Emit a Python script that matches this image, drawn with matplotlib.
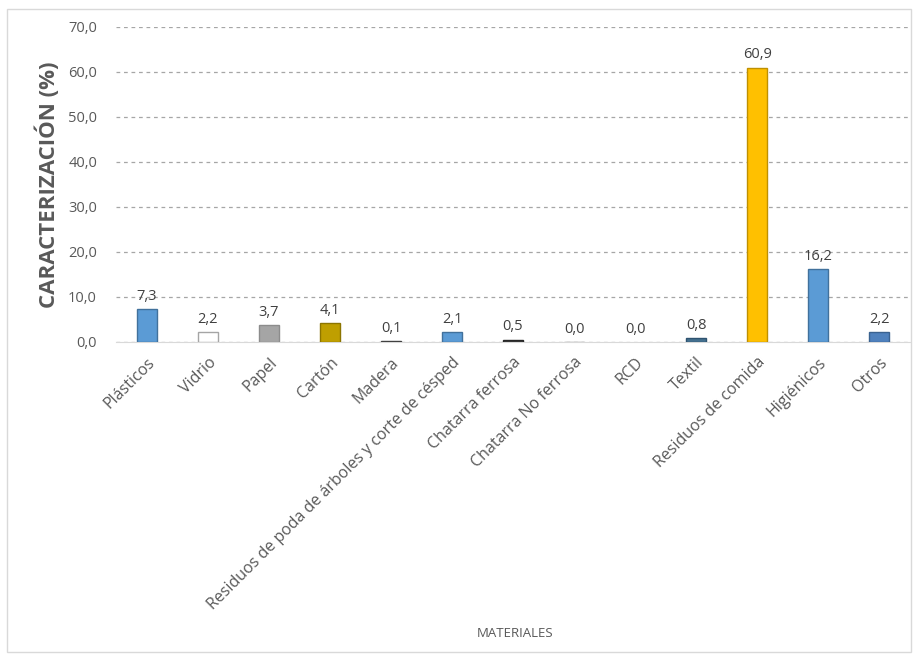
import matplotlib
matplotlib.use("Agg")
import matplotlib.pyplot as plt
from matplotlib.ticker import FuncFormatter

categories = ["Plásticos", "Vidrio", "Papel", "Cartón", "Madera",
              "Residuos de poda de árboles y corte de césped",
              "Chatarra ferrosa", "Chatarra No ferrosa", "RCD", "Textil",
              "Residuos de comida", "Higiénicos", "Otros"]
values = [7.3, 2.2, 3.7, 4.1, 0.1, 2.1, 0.5, 0.0, 0.0, 0.8, 60.9, 16.2, 2.2]
colors = ["#5B9BD5", "#FFFFFF", "#A5A5A5", "#BF9F00", "#595959", "#5B9BD5",
          "#404040", "#A5A5A5", "#FFFFFF", "#44708F", "#FFC000", "#5B9BD5", "#4F81BD"]
edges = ["#41719C", "#A5A5A5", "#8C8C8C", "#8C7500", "#404040", "#41719C",
         "#262626", "#8C8C8C", "#FFFFFF", "#2F5370", "#BF9000", "#41719C", "#3A6290"]

plt.rcParams['font.family'] = ['Open Sans', 'DejaVu Sans']

fig = plt.figure(figsize=(9.17, 6.55), dpi=100)
ax = fig.add_axes([0.127, 0.478, 0.865, 0.481])

x = range(len(categories))
bars = ax.bar(x, values, width=0.33, color=colors, edgecolor=edges, linewidth=1, zorder=3)
for xi, v in zip(x, values):
    ax.text(xi, v + 1.2, f"{v:.1f}".replace(".", ","), ha="center", va="bottom",
            fontsize=10.5, color="#404040", zorder=4)

ax.set_ylim(0, 70)
ax.set_xlim(-0.5, len(categories) - 0.5)
ax.set_yticks(range(0, 71, 10))
ax.yaxis.set_major_formatter(FuncFormatter(lambda v, p: f"{v:.1f}".replace(".", ",")))
ax.tick_params(axis="y", length=0, labelsize=10.5, labelcolor="#595959", pad=14)
ax.tick_params(axis="x", length=0, labelsize=11.5, labelcolor="#595959", pad=9)
ax.set_xticks(list(x))
ax.set_xticklabels(categories, rotation=45, ha="right", rotation_mode="anchor")
ax.grid(axis="y", linestyle=(0, (3, 3)), color="#A6A6A6", linewidth=0.9, zorder=0)
for s in ["top", "right", "left"]:
    ax.spines[s].set_visible(False)
ax.spines["bottom"].set_color("#D9D9D9")

ax.set_ylabel("CARACTERIZACIÓN (%)", fontsize=16, fontweight="bold", color="#595959", labelpad=6)
fig.text(0.562, 0.033, "MATERIALES", ha="center", va="center", fontsize=9.5, color="#595959")

# outer frame
fig.patches.append(plt.Rectangle((0.008, 0.005), 0.985, 0.982, transform=fig.transFigure,
                                 fill=False, edgecolor="#D9D9D9", linewidth=1))

fig.savefig("out.png", dpi=100)
